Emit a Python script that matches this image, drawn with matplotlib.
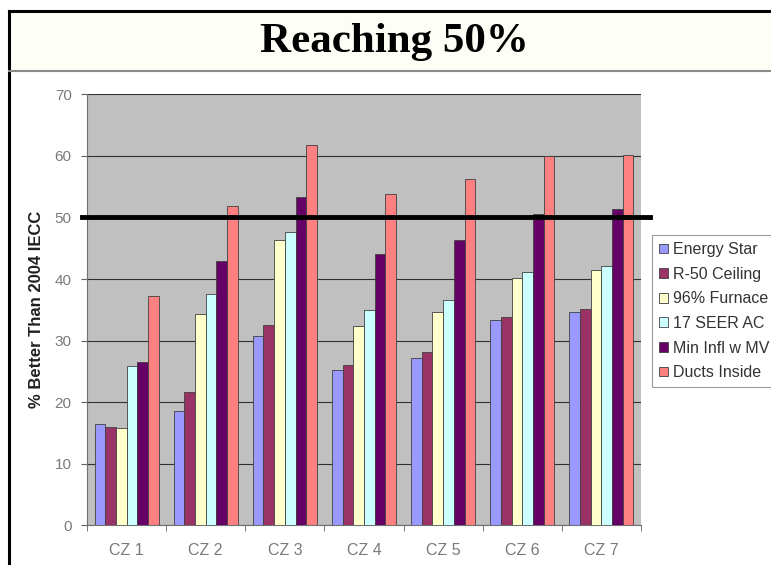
import matplotlib
matplotlib.use('Agg')
import matplotlib.pyplot as plt
import numpy as np
from matplotlib.lines import Line2D
from matplotlib.patches import Rectangle

zones = ['CZ 1', 'CZ 2', 'CZ 3', 'CZ 4', 'CZ 5', 'CZ 6', 'CZ 7']
series_names = ['Energy Star', 'R-50 Ceiling', '96% Furnace', '17 SEER AC',
                'Min Infl w MV', 'Ducts Inside']

energy_star = [16.4, 18.5, 30.8, 25.2, 27.2, 33.4, 34.6]
r50_ceiling = [16.0, 21.7, 32.5, 26.1, 28.2, 33.9, 35.2]
furnace_96 = [15.8, 34.3, 46.3, 32.3, 34.6, 40.1, 41.5]
seer_17 = [25.8, 37.6, 47.6, 35.0, 36.6, 41.2, 42.1]
min_infl_mv = [26.5, 43.0, 53.3, 44.0, 46.3, 50.6, 51.3]
ducts_inside = [37.3, 51.9, 61.7, 53.8, 56.2, 59.9, 60.1]

target = 50

colors = ['#9999FF', '#993366', '#FFFFCC', '#CCFFFF', '#660066', '#FF8080']

plt.rcParams['font.family'] = ['Liberation Sans', 'DejaVu Sans']

fig = plt.figure(figsize=(7.71, 5.65), dpi=100)
fig.patch.set_facecolor('white')

# title band with its border lines
fig.add_artist(Rectangle((9 / 771, 1 - 71 / 565), 1, 60 / 565,
                         transform=fig.transFigure, facecolor='#FDFEF6',
                         edgecolor='none', zorder=0))
fig.add_artist(Line2D([9 / 771, 9 / 771], [0, 1 - 11 / 565], color='black', lw=2.2))
fig.add_artist(Line2D([9 / 771, 1], [1 - 11 / 565, 1 - 11 / 565], color='black', lw=2.2))
fig.add_artist(Line2D([9 / 771, 1], [1 - 71 / 565, 1 - 71 / 565], color='#8a8a8a', lw=1.5))
fig.text(394 / 771, 1 - 42 / 565, 'Reaching 50%', ha='center', va='center',
         fontsize=31, fontweight='bold', family=['Liberation Serif', 'DejaVu Serif'])

ax = fig.add_axes([87 / 771, 1 - 525.3 / 565, 554 / 771, 431 / 565])
ax.set_facecolor('#C0C0C0')

data = [energy_star, r50_ceiling, furnace_96, seer_17, min_infl_mv, ducts_inside]
x = np.arange(len(zones))
width = 0.135
for i, (name, vals) in enumerate(zip(series_names, data)):
    offset = (i - 2.5) * width
    ax.bar(x + offset, vals, width=width, color=colors[i], label=name,
           edgecolor='#404040', linewidth=0.6, zorder=3)

ax.axhline(target, xmin=-0.009, xmax=1.016, color='black', lw=3.5,
           clip_on=False, zorder=5)

ax.set_ylim(0, 70)
ax.set_xlim(-0.5, 6.5)
ax.set_yticks(range(0, 71, 10))
ax.grid(axis='y', color='#303030', lw=0.8, zorder=1)
ax.set_axisbelow(True)

ax.set_xticks(x)
ax.set_xticklabels(zones)
ax.set_xticks(np.arange(-0.5, 7, 1), minor=True)
ax.tick_params(axis='x', which='major', length=0, pad=13, labelsize=11.5,
               labelcolor='#7a7a7a')
ax.tick_params(axis='x', which='minor', length=4, color='#606060', direction='out')
ax.tick_params(axis='y', length=4, color='#606060', pad=7, labelsize=11,
               labelcolor='#7a7a7a')

for side in ['top', 'right']:
    ax.spines[side].set_visible(False)
ax.spines['left'].set_color('#707070')
ax.spines['bottom'].set_color('#707070')

ax.set_ylabel('% Better Than 2004 IECC', fontsize=12, fontweight='bold',
              color='#202020', labelpad=8)

leg = ax.legend(loc='upper left', bbox_to_anchor=(652 / 771, 1 - 235 / 565),
                bbox_transform=fig.transFigure, fontsize=11.5, frameon=True,
                fancybox=False, handlelength=0.55, handleheight=0.55,
                handletextpad=0.3, labelspacing=0.6, borderpad=0.45,
                borderaxespad=0)
leg.get_frame().set_edgecolor('#808080')
leg.get_frame().set_linewidth(0.8)
for t in leg.get_texts():
    t.set_color('#333333')

fig.savefig('out.png', dpi=100)
